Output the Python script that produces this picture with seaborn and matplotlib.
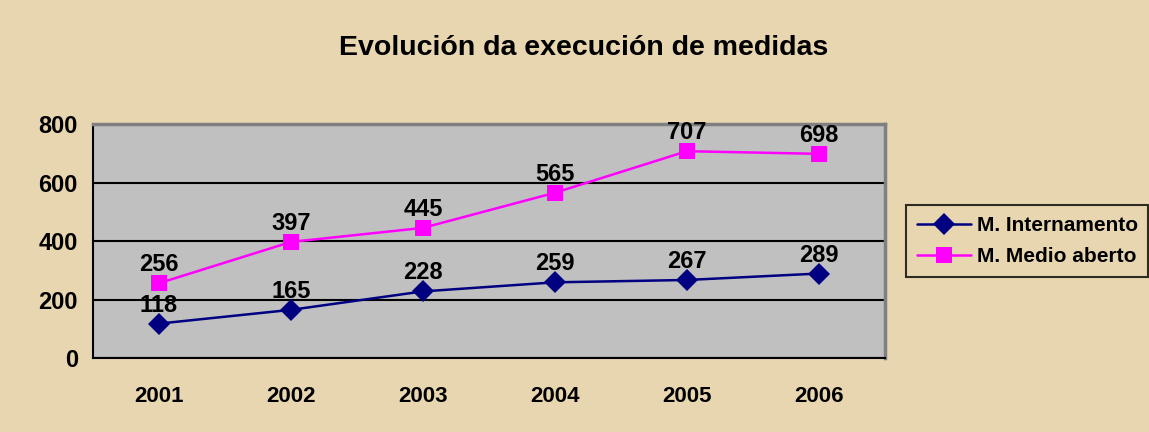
import numpy as np
import pandas as pd
import matplotlib
matplotlib.use("Agg")
import matplotlib.pyplot as plt
from matplotlib.ticker import FixedLocator
import seaborn as sns

OUT_PATH = "out.png"

years = ["2001", "2002", "2003", "2004", "2005", "2006"]
internamento = [118, 165, 228, 259, 267, 289]
medio_aberto = [256, 397, 445, 565, 707, 698]
series_names = ["M. Internamento", "M. Medio aberto"]

df = pd.DataFrame({
    "year": list(range(len(years))) * 2,
    "value": internamento + medio_aberto,
    "serie": [series_names[0]] * len(years) + [series_names[1]] * len(years),
})

sns.set_style("white")
plt.rcParams["font.family"] = ["Liberation Sans", "DejaVu Sans"]
plt.rcParams["font.weight"] = "bold"
plt.rcParams["text.color"] = "black"
plt.rcParams["xtick.color"] = "black"
plt.rcParams["ytick.color"] = "black"

fig = plt.figure(figsize=(11.49, 4.32), dpi=100)
fig.patch.set_facecolor("#E8D6B0")
ax = fig.add_axes([0.081, 0.171, 0.689, 0.542])
ax.set_facecolor("#C0C0C0")

palette = {series_names[0]: "#000080", series_names[1]: "#FF00FF"}
markers = {series_names[0]: "D", series_names[1]: "s"}
sns.lineplot(data=df, x="year", y="value", hue="serie", style="serie",
             palette=palette, markers=markers, dashes=False, ax=ax,
             linewidth=1.8, markersize=11, markeredgewidth=0, zorder=3)

for i, v in enumerate(internamento):
    ax.annotate(str(v), (i, v), xytext=(0, 5), textcoords="offset points",
                ha="center", va="bottom", fontsize=17, fontweight="bold",
                zorder=4)
for i, v in enumerate(medio_aberto):
    ax.annotate(str(v), (i, v), xytext=(0, 5), textcoords="offset points",
                ha="center", va="bottom", fontsize=17, fontweight="bold",
                zorder=4)

ax.set_xlim(-0.5, len(years) - 0.5)
ax.set_ylim(0, 800)
ax.set_yticks([0, 200, 400, 600, 800])
ax.yaxis.grid(True, color="black", linewidth=1.5)
ax.set_axisbelow(True)

ax.set_xticks(range(len(years)))
ax.set_xticklabels(years)
ax.xaxis.set_minor_locator(FixedLocator(np.arange(-0.5, len(years), 1.0)))
ax.tick_params(axis="x", which="major", length=0, pad=20, labelsize=16)
ax.tick_params(axis="x", which="minor", length=7, width=1.5, direction="out",
               color="black")
ax.tick_params(axis="y", length=7, width=1.5, direction="out", color="black",
               labelsize=17, pad=4)
for lab in ax.get_xticklabels() + ax.get_yticklabels():
    lab.set_fontweight("bold")

ax.set_xlabel("")
ax.set_ylabel("")
ax.spines["left"].set_color("black")
ax.spines["left"].set_linewidth(1.5)
ax.spines["bottom"].set_color("black")
ax.spines["bottom"].set_linewidth(1.5)
ax.spines["top"].set_color("#808080")
ax.spines["top"].set_linewidth(2.5)
ax.spines["right"].set_color("#808080")
ax.spines["right"].set_linewidth(2.5)

fig.text(0.508, 0.89, "Evolución da execución de medidas", ha="center",
         va="center", fontsize=20.5, fontweight="bold")

leg = ax.legend(loc="center left", bbox_to_anchor=(1.027, 0.5),
                frameon=True, fancybox=False, fontsize=15,
                handlelength=2.6, handletextpad=0.3, borderpad=0.5,
                labelspacing=0.6, borderaxespad=0)
leg.get_frame().set_edgecolor("black")
leg.get_frame().set_linewidth(1.5)
leg.get_frame().set_facecolor("none")
for t in leg.get_texts():
    t.set_fontweight("bold")

plt.savefig(OUT_PATH, dpi=100, facecolor=fig.get_facecolor())
plt.close()
